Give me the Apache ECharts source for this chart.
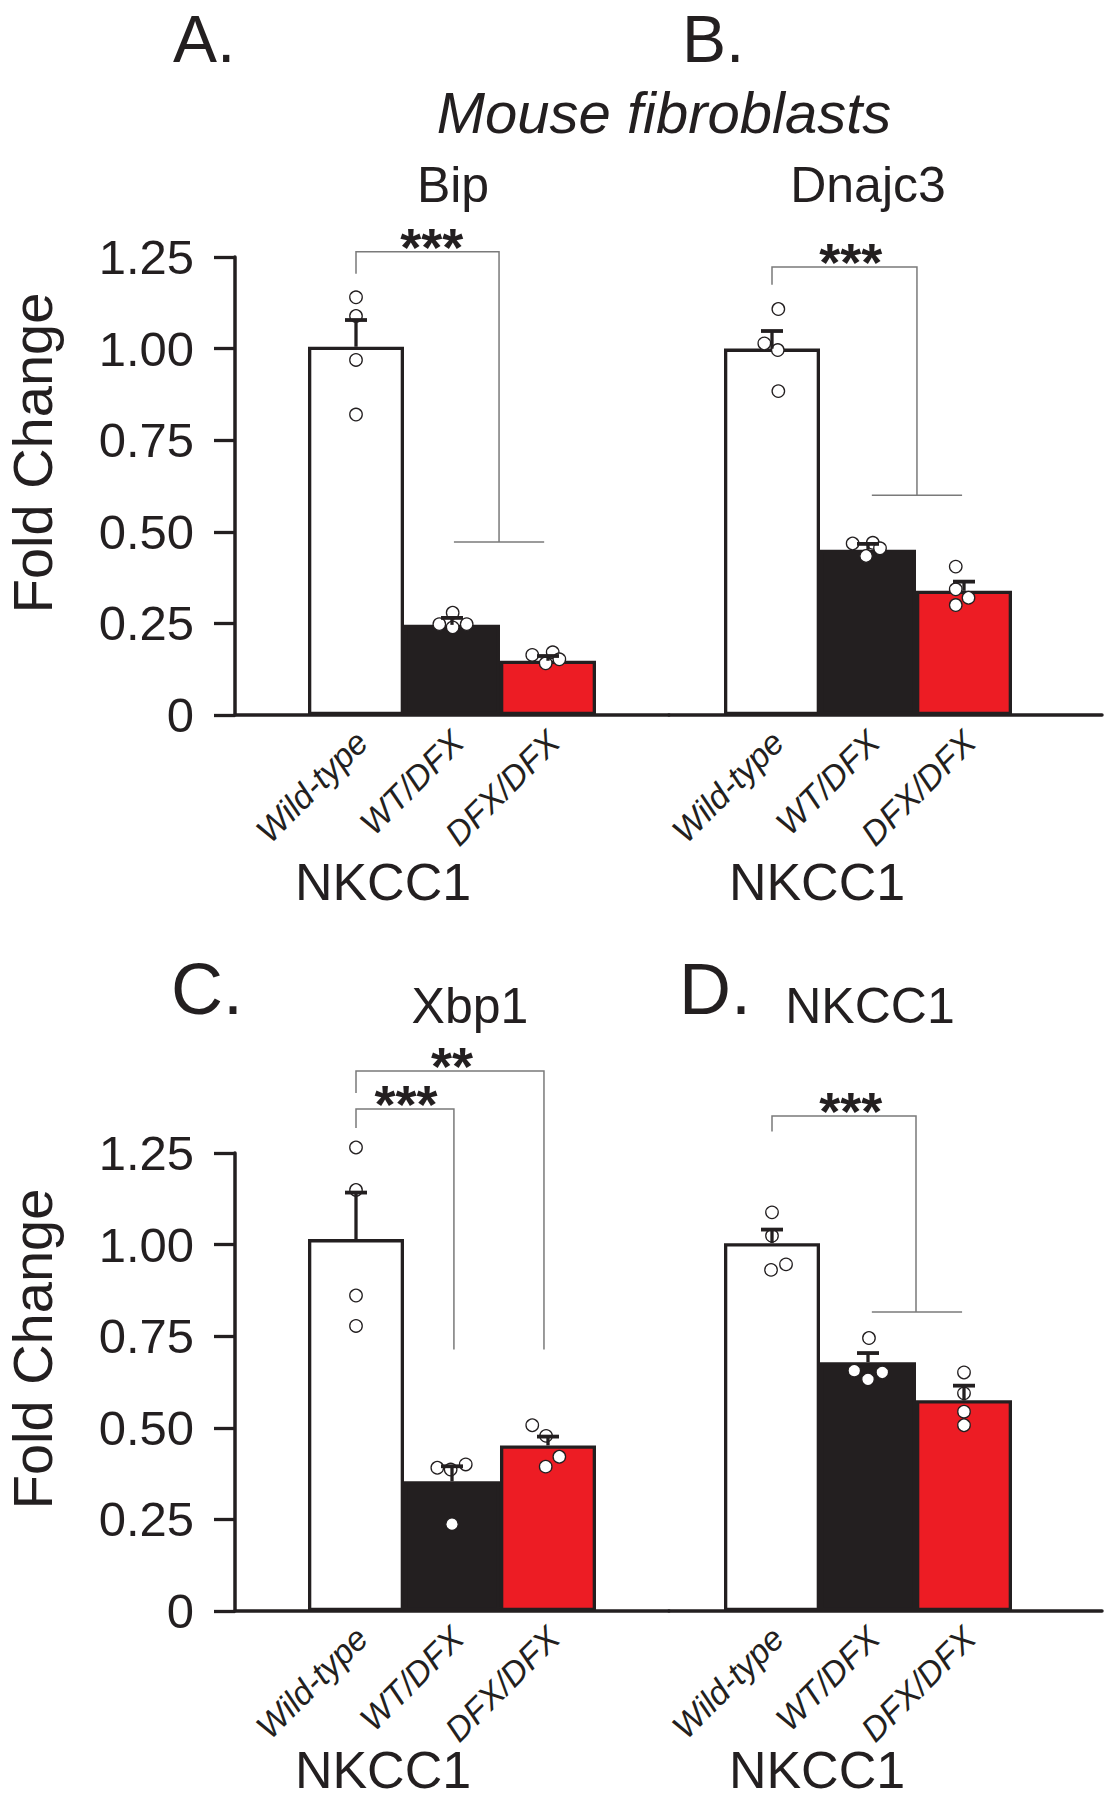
<!DOCTYPE html>
<html><head><meta charset="utf-8">
<script src="https://cdn.jsdelivr.net/npm/echarts@6/dist/echarts.min.js"></script>
<style>html,body{margin:0;padding:0;background:#fff}#c{width:1107px;height:1800px}</style>
</head><body><div id="c"></div>
<script>
// ---------- data ----------
const groups = ['Wild-type', 'WT/DFX', 'DFX/DFX'];
const yTickLabels = ['0', '0.25', '0.50', '0.75', '1.00', '1.25'];

// Panel A - Bip
const bipMean = [1.005, 0.246, 0.148];
const bipErrTop = [1.078, 0.265, 0.161];
const bipDots = [[1.140, 1.089, 0.969, 0.820], [0.279, 0.248, 0.248, 0.239], [0.164, 0.171, 0.152, 0.141]];
const bipJitter = [[0, 0, 0, 0], [0.007, -0.132, 0.153, 0.007], [-0.164, 0.049, 0.118, -0.024]];
const bipSig = [
  { pts: [[0, 1.204], [0, 1.264], [1.49, 1.264], [1.49, 0.472]], cross: [[1.02, 0.472], [1.96, 0.472]], text: '***', at: [0.79, 1.264] }
];

// Panel B - Dnajc3
const dnajc3Mean = [1.0, 0.451, 0.339];
const dnajc3ErrTop = [1.048, 0.467, 0.364];
const dnajc3Dots = [[1.108, 1.014, 0.996, 0.884], [0.468, 0.470, 0.455, 0.434], [0.405, 0.343, 0.320, 0.300]];
const dnajc3Jitter = [[0.066, -0.08, 0.06, 0.066], [-0.16, 0.05, 0.125, -0.02], [-0.086, -0.086, 0.047, -0.086]];
const dnajc3Sig = [
  { pts: [[0, 1.174], [0, 1.223], [1.51, 1.223], [1.51, 0.600]], cross: [[1.04, 0.600], [1.98, 0.600]], text: '***', at: [0.82, 1.223] }
];

// Panel C - Xbp1
const xbp1Mean = [1.015, 0.354, 0.452];
const xbp1ErrTop = [1.142, 0.395, 0.476];
const xbp1Dots = [[1.265, 1.149, 0.861, 0.778], [0.391, 0.386, 0.400, 0.237], [0.507, 0.478, 0.421, 0.394]];
const xbp1Jitter = [[0, 0, 0, 0], [-0.153, -0.014, 0.143, 0], [-0.164, -0.02, 0.118, -0.024]];
const xbp1Sig = [
  { pts: [[0, 1.414], [0, 1.474], [1.958, 1.474], [1.958, 0.714]], text: '**', at: [1.0, 1.474] },
  { pts: [[0, 1.318], [0, 1.370], [1.02, 1.370], [1.02, 0.714]], text: '***', at: [0.52, 1.370] }
];

// Panel D - NKCC1
const nkcc1Mean = [1.004, 0.679, 0.575];
const nkcc1ErrTop = [1.041, 0.704, 0.615];
const nkcc1Dots = [[1.088, 1.024, 0.931, 0.946], [0.745, 0.656, 0.651, 0.632], [0.651, 0.594, 0.544, 0.507]];
const nkcc1Jitter = [[0, 0, -0.01, 0.146], [0.01, -0.143, 0.149, 0], [0, 0, 0, 0]];
const nkcc1Sig = [
  { pts: [[0, 1.309], [0, 1.351], [1.5, 1.351], [1.5, 0.816]], cross: [[1.04, 0.816], [1.98, 0.816]], text: '***', at: [0.82, 1.351] }
];

// ---------- styling / layout ----------
const INK = '#231f20';
const fills = ['#ffffff', '#231f20', '#ed1c24'];
const FONT = '"Liberation Sans", Arial, Helvetica, sans-serif';
const UNIT = 96; // px per group
const panels = [
  { mean: bipMean, err: bipErrTop, dots: bipDots, jit: bipJitter, sig: bipSig, left: 235, top: 257, width: 434, c0: 356, axis: true },
  { mean: dnajc3Mean, err: dnajc3ErrTop, dots: dnajc3Dots, jit: dnajc3Jitter, sig: dnajc3Sig, left: 669, top: 257, width: 433, c0: 772, axis: false },
  { mean: xbp1Mean, err: xbp1ErrTop, dots: xbp1Dots, jit: xbp1Jitter, sig: xbp1Sig, left: 235, top: 1153, width: 434, c0: 356, axis: true },
  { mean: nkcc1Mean, err: nkcc1ErrTop, dots: nkcc1Dots, jit: nkcc1Jitter, sig: nkcc1Sig, left: 669, top: 1153, width: 433, c0: 772, axis: false }
];

const grid = [], xAxis = [], yAxis = [], series = [];
panels.forEach((p, i) => {
  grid.push({ left: p.left, top: p.top, width: p.width, height: 458 });
  xAxis.push({
    type: 'value', gridIndex: i,
    min: (p.left - p.c0) / UNIT, max: (p.left + p.width - p.c0) / UNIT,
    splitLine: { show: false },
    axisLine: { show: true, onZero: false, lineStyle: { color: INK, width: 3.5 } },
    axisTick: { show: false },
    axisLabel: {
      customValues: [0, 1, 2],
      formatter: v => { const k = Math.round(v); return (Math.abs(v - k) < 1e-6 && k >= 0 && k < 3) ? groups[k] : ''; },
      rotate: 45, margin: 27, fontSize: 34, fontStyle: 'italic', fontFamily: FONT, color: INK,
      padding: [6, -8, 0, 0]
    }
  });
  yAxis.push({
    type: 'value', gridIndex: i, min: 0, max: 1.25, interval: 0.25, show: p.axis,
    splitLine: { show: false },
    axisLine: { show: true, onZero: false, lineStyle: { color: INK, width: 3.5 } },
    axisTick: { show: true, length: 21, lineStyle: { color: INK, width: 3.3 } },
    axisLabel: {
      formatter: v => yTickLabels[Math.round(v / 0.25)],
      margin: 41, fontSize: 49, fontFamily: FONT, color: INK
    }
  });
  series.push({
    type: 'bar', xAxisIndex: i, yAxisIndex: i, barWidth: UNIT, z: 2,
    itemStyle: { borderColor: INK, borderWidth: 3.3 },
    data: p.mean.map((m, j) => ({ value: [j, m], itemStyle: { color: fills[j] } })),
    silent: true
  });
  series.push({
    type: 'scatter', xAxisIndex: i, yAxisIndex: i, z: 3, clip: false,
    symbol: 'circle', symbolSize: 12.5,
    itemStyle: { color: '#ffffff', borderColor: INK, borderWidth: 1.3, opacity: 1 },
    data: p.dots.flatMap((arr, j) => arr.map((v, k) => [j + p.jit[j][k], v])),
    silent: true
  });
  series.push({
    type: 'custom', xAxisIndex: i, yAxisIndex: i, z: 4, clip: false,
    data: p.mean.map((m, j) => [j, m, p.err[j]]),
    renderItem: (params, api) => {
      const x = api.value(0), m = api.value(1), t = api.value(2);
      const p0 = api.coord([x, m]), p1 = api.coord([x, t]);
      return {
        type: 'group', children: [
          { type: 'line', shape: { x1: p0[0], y1: p0[1], x2: p1[0], y2: p1[1] }, style: { stroke: INK, lineWidth: 3.3 } },
          { type: 'line', shape: { x1: p1[0] - 11, y1: p1[1], x2: p1[0] + 11, y2: p1[1] }, style: { stroke: INK, lineWidth: 3.8 } }
        ]
      };
    },
    silent: true
  });
  series.push({
    type: 'custom', xAxisIndex: i, yAxisIndex: i, z: 5, clip: false,
    data: p.sig.map((s, k) => [k]),
    renderItem: (params, api) => {
      const b = p.sig[params.dataIndex];
      const ch = [];
      ch.push({ type: 'polyline', shape: { points: b.pts.map(q => api.coord(q)) }, style: { stroke: '#7a7a7a', lineWidth: 1.5, fill: 'none' } });
      if (b.cross) ch.push({ type: 'polyline', shape: { points: b.cross.map(q => api.coord(q)) }, style: { stroke: '#7a7a7a', lineWidth: 1.5, fill: 'none' } });
      const t = api.coord(b.at);
      ch.push({ type: 'text', x: t[0], y: t[1] - 5, style: { text: b.text, font: 'bold 54px ' + FONT, fill: INK, align: 'center', verticalAlign: 'middle', textAlign: 'center', textVerticalAlign: 'middle' } });
      return { type: 'group', children: ch };
    },
    silent: true
  });
});

function txt(text, x, y, size, opts) {
  opts = opts || {};
  const st = {
    text: text, font: (opts.italic ? 'italic ' : '') + size + 'px ' + FONT, fill: INK,
    align: opts.align || 'center', textAlign: opts.align || 'center',
    verticalAlign: 'middle', textVerticalAlign: 'middle'
  };
  if (opts.lh) st.lineHeight = opts.lh;
  return { type: 'text', x: x, y: y, rotation: opts.rot || 0, silent: true, style: st };
}

const graphic = [
  txt('A.', 173, 39, 66, { align: 'left' }),
  txt('B.', 682, 39, 66, { align: 'left' }),
  txt('Mouse fibroblasts', 664, 112, 58, { italic: true }),
  txt('Bip', 453, 185, 50),
  txt('Dnajc3', 868, 185, 50),
  txt('NKCC1', 383, 882, 52),
  txt('NKCC1', 817, 882, 52),
  txt('C.', 171, 989, 72, { align: 'left' }),
  txt('D.', 679, 989, 72, { align: 'left' }),
  txt('Xbp1', 470, 1006, 50),
  txt('NKCC1', 870, 1006, 50),
  txt('NKCC1', 383, 1770, 52),
  txt('NKCC1', 817, 1770, 52),
  txt('Fold Change', 32, 453, 56, { rot: Math.PI / 2 }),
  txt('Fold Change', 32, 1349, 56, { rot: Math.PI / 2 })
];

const chart = echarts.init(document.getElementById('c'), null, { renderer: 'svg' });
chart.setOption({ animation: false, backgroundColor: '#ffffff', grid, xAxis, yAxis, series, graphic });
</script>
</body></html>
